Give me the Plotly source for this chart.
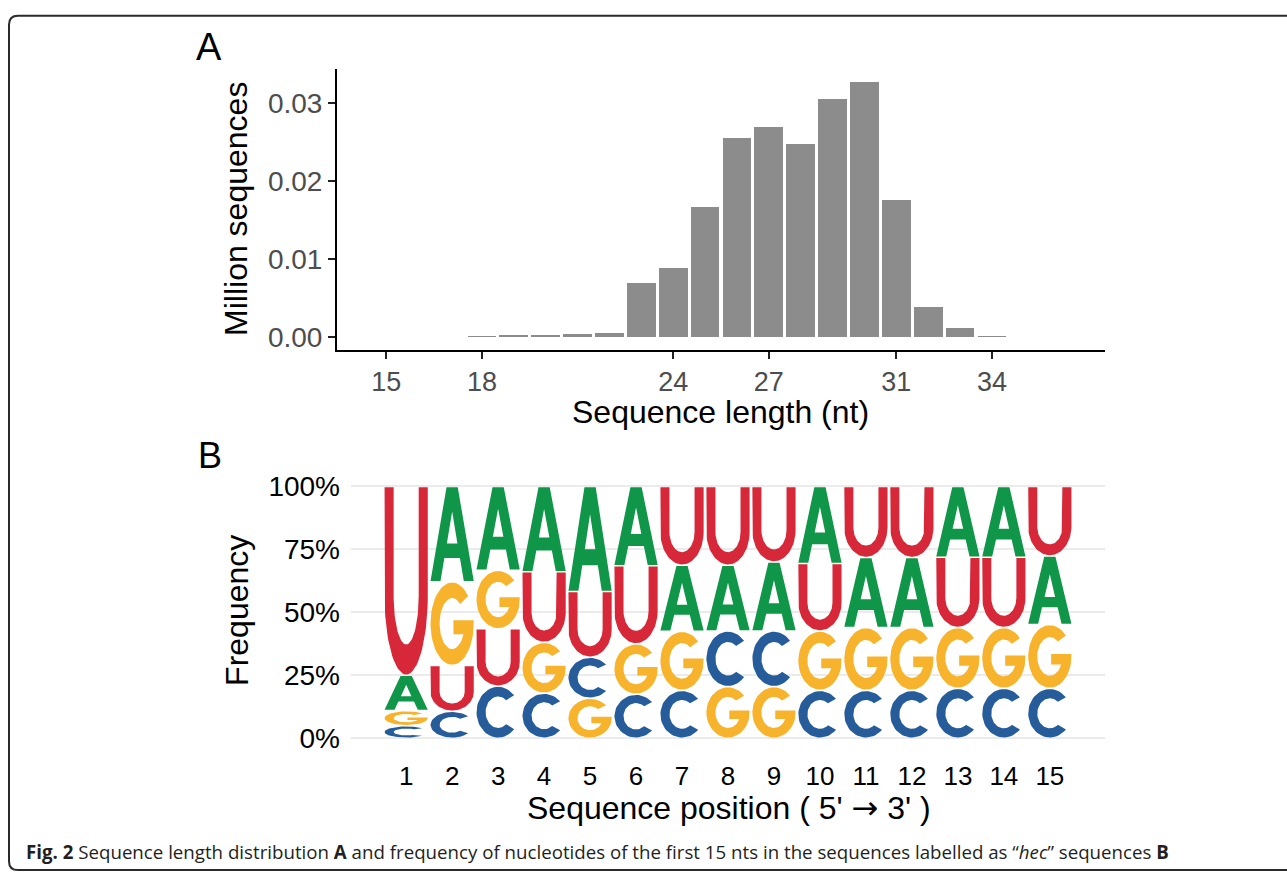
import numpy as np
import plotly.graph_objects as go

W, H = 1287, 877

# ---------------- Panel A data ----------------
lengths = list(range(18, 35))
million_seqs = [0.00012, 0.0003, 0.0003, 0.00035, 0.00055, 0.00696, 0.00882,
                0.01662, 0.0256, 0.02695, 0.02472, 0.0305, 0.03275, 0.01754,
                0.0039, 0.0011, 0.0001]
length_ticks = [15, 18, 24, 27, 31, 34]
count_ticks = [0.0, 0.01, 0.02, 0.03]
count_tick_text = ["0.00", "0.01", "0.02", "0.03"]

# ---------------- Panel B data ----------------
positions = list(range(1, 16))
freq_A = [.14, .378, .333, .339, .417, .315, .262, .261, .274, .306, .278, .278, .281, .281, .272]
freq_C = [.05, .107, .207, .179, .163, .175, .19, .221, .221, .19, .19, .19, .198, .198, .198]
freq_G = [.06, .333, .232, .202, .159, .2, .235, .205, .205, .236, .25, .25, .242, .242, .254]
freq_U = [.75, .182, .228, .280, .261, .31, .313, .313, .30, .268, .282, .282, .279, .279, .276]
freq_ticks = [0, 0.25, 0.5, 0.75, 1.0]
freq_tick_text = ["0%", "25%", "50%", "75%", "100%"]

nuc_colors = {"A": "#109648", "C": "#255C99", "G": "#F7B32B", "U": "#D62839"}


# ---------------- glyph outlines (unit box) ----------------
def arc(cx, cy, rx, ry, a0, a1, n=48):
    t = np.radians(np.linspace(a0, a1, n))
    return list(zip(cx + rx * np.cos(t), cy + ry * np.sin(t)))


def glyph_A():
    return [(0, 0), (0.37, 1), (0.5, 1), (0.5, 0.74),
            (0.378, 0.40), (0.622, 0.40), (0.5, 0.74),
            (0.5, 1), (0.63, 1), (1, 0), (0.77, 0), (0.68, 0.245),
            (0.32, 0.245), (0.23, 0), (0, 0)]


RXI, RYI = 0.29, 0.31


def glyph_C():
    pts = arc(0.5, 0.5, 0.5, 0.5, 42, 318)
    pts += arc(0.5, 0.5, RXI, RYI, 310, 50)
    pts.append(pts[0])
    return pts


def glyph_G():
    pts = arc(0.5, 0.5, 0.5, 0.5, 42, 360)
    y_bar = 0.37
    phi0 = np.degrees(np.arcsin((y_bar - 0.5) / RYI))
    x_in = 0.5 + RXI * np.cos(np.radians(phi0))
    pts += [(1, 0.54), (0.53, 0.54), (0.53, y_bar), (x_in, y_bar)]
    pts += arc(0.5, 0.5, RXI, RYI, 360 + phi0, 50)
    pts.append(pts[0])
    return pts


def glyph_U():
    c = 0.42
    t = 0.21
    pts = [(0, 1), (0, c)]
    pts += arc(0.5, c, 0.5, c, 180, 360)
    pts += [(1, c), (1, 1), (1 - t, 1), (1 - t, c)]
    pts += arc(0.5, c, 0.5 - t, c - 0.16, 360, 180)
    pts += [(t, c), (t, 1), (0, 1)]
    return pts


glyphs = {"A": glyph_A(), "C": glyph_C(), "G": glyph_G(), "U": glyph_U()}
freqs = {"A": freq_A, "C": freq_C, "G": freq_G, "U": freq_U}

fig = go.Figure()

# ---------------- Panel A ----------------
fig.add_trace(go.Bar(x=lengths, y=million_seqs, width=0.9,
                     marker=dict(color="#8C8C8C", line=dict(width=0)),
                     xaxis="x", yaxis="y", showlegend=False, hoverinfo="skip"))

# ---------------- Panel B: sequence logo ----------------
letter_w = 0.94
gap = 0.003
xs = {k: [] for k in glyphs}
ys = {k: [] for k in glyphs}
for i, p in enumerate(positions):
    order = sorted(glyphs.keys(), key=lambda k: freqs[k][i])
    bottom = 0.0
    for k in order:
        h = freqs[k][i]
        y0, y1 = bottom + gap, bottom + h - gap
        for gx, gy in glyphs[k]:
            xs[k].append(p + (gx - 0.5) * letter_w)
            ys[k].append(y0 + gy * (y1 - y0))
        xs[k].append(None)
        ys[k].append(None)
        bottom += h

for k in ["C", "G", "A", "U"]:
    fig.add_trace(go.Scatter(x=xs[k], y=ys[k], mode="lines", fill="toself",
                             fillcolor=nuc_colors[k],
                             line=dict(width=0, color=nuc_colors[k]),
                             xaxis="x2", yaxis="y2", showlegend=False,
                             hoverinfo="skip"))

FONT = "Liberation Sans, Arial, Helvetica, sans-serif"


def px_x(v):
    return v / W


def px_y(v):
    return 1 - v / H


fig.update_layout(
    width=W, height=H,
    margin=dict(l=0, r=0, t=0, b=0),
    paper_bgcolor="white", plot_bgcolor="white",
    font=dict(family=FONT, color="black"),
    bargap=0,
    xaxis=dict(domain=[px_x(337), px_x(1105)], range=[13.455, 37.545],
               tickvals=length_ticks, ticks="outside", ticklen=7, tickwidth=2,
               tickcolor="#222", showline=True, linewidth=2, linecolor="black",
               showgrid=False, zeroline=False, anchor="y",
               tickfont=dict(size=27, color="#4D4D4D", family=FONT)),
    yaxis=dict(domain=[px_y(347.7), px_y(62.7)], range=[-0.00164, 0.03439],
               tickvals=count_ticks, ticktext=count_tick_text,
               ticks="outside", ticklen=7, tickwidth=2, tickcolor="#222",
               showline=True, linewidth=2, linecolor="black",
               showgrid=False, zeroline=False, anchor="x",
               tickfont=dict(size=28, color="#4D4D4D", family=FONT)),
    xaxis2=dict(domain=[px_x(351), px_x(1105)], range=[-0.2, 16.2],
                tickvals=positions, ticks="", showline=False, showgrid=False,
                zeroline=False, anchor="y2", ticklabelstandoff=10,
                tickfont=dict(size=26, color="black", family=FONT)),
    yaxis2=dict(domain=[px_y(752), px_y(478)], range=[-0.038, 1.034],
                tickvals=freq_ticks, ticktext=freq_tick_text, ticks="",
                showline=False, showgrid=True, gridcolor="#EBEBEB", gridwidth=2,
                zeroline=False, anchor="x2", ticklabelstandoff=10,
                tickfont=dict(size=28, color="black", family=FONT)),
)

annotations = [
    dict(text="A", x=px_x(194), y=px_y(41), xanchor="left", yanchor="middle",
         font=dict(size=38, family=FONT, color="black")),
    dict(text="B", x=px_x(196), y=px_y(455), xanchor="left", yanchor="middle",
         font=dict(size=36, family=FONT, color="black")),
    dict(text="Million sequences", x=px_x(236), y=px_y(205), textangle=-90,
         xanchor="center", yanchor="middle",
         font=dict(size=32, family=FONT, color="black")),
    dict(text="Sequence length (nt)", x=px_x(720), y=px_y(411),
         xanchor="center", yanchor="middle",
         font=dict(size=32, family=FONT, color="black")),
    dict(text="Frequency", x=px_x(237), y=px_y(613), textangle=-90,
         xanchor="center", yanchor="middle",
         font=dict(size=32, family=FONT, color="black")),
    dict(text="Sequence position ( 5' <span style=\"font-family:'DejaVu Sans'\">\u2192</span> 3' )",
         x=px_x(729), y=px_y(813),
         xanchor="center", yanchor="middle",
         font=dict(size=32, family=FONT, color="black")),
    dict(text="<b>Fig. 2</b> Sequence length distribution <b>A</b> and frequency of "
              "nucleotides of the first 15 nts in the sequences labelled as "
              "\u201c<i>hec</i>\u201d sequences <b>B</b>",
         x=px_x(24), y=px_y(857), xanchor="left", yanchor="middle",
         font=dict(size=18.7, family="Open Sans, Noto Sans, sans-serif", color="#231F20")),
]
for a in annotations:
    a.update(xref="paper", yref="paper", showarrow=False)
fig.update_layout(annotations=annotations)

# rounded frame around the figure
x0, y0, r = px_x(9), px_y(9), 9
frame = (f"M {px_x(1300)},{y0} L {px_x(9 + r)},{y0} "
         f"Q {x0},{y0} {x0},{px_y(9 + r)} "
         f"L {x0},{px_y(876 - r)} Q {x0},{px_y(876)} {px_x(9 + r)},{px_y(876)} "
         f"L {px_x(1300)},{px_y(876)}")
fig.add_shape(type="path", path=frame, xref="paper", yref="paper",
              line=dict(color="#2a2a2a", width=2))

fig.write_html("out.html", config={"displayModeBar": False},
               post_script="document.body.style.margin='0px';")
